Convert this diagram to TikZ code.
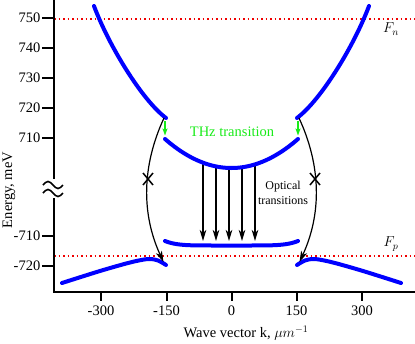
\documentclass[tikz,border=0pt]{standalone}
\usepackage{fontspec}
\setmainfont{Liberation Serif}
\usetikzlibrary{arrows.meta}
\definecolor{bandblue}{RGB}{0,0,255}
\definecolor{thzgreen}{RGB}{25,235,25}
\definecolor{fermired}{RGB}{240,0,0}
\begin{document}
\begin{tikzpicture}[x=1pt,y=-1pt,
  band/.style={line width=4pt, bandblue, line cap=round},
  axisline/.style={line width=2.4pt, black},
  tickmark/.style={line width=2pt, black},
  fermi/.style={line width=1.6pt, fermired, dash pattern=on 1.6pt off 2.9pt},
  trans/.style={line width=1.2pt, black, -{Stealth[length=11pt,width=6.5pt,inset=3pt]}},
  thzarrow/.style={line width=1.4pt, thzgreen, -{Stealth[length=7pt,width=5pt,inset=1.5pt]}},
  xmark/.style={line width=1.5pt, black},
  breakmark/.style={line width=1.6pt, black},
  lab/.style={font=\fontsize{14.5}{17}\selectfont, inner sep=0pt},
]
\useasboundingbox (0,0) rectangle (415,343);

% Fermi levels
\coordinate (fnL) at (54,19); \coordinate (fnR) at (415,19);
\coordinate (fpL) at (54,256); \coordinate (fpR) at (415,256);
\draw[fermi] (fnL) -- (fnR);
\draw[fermi] (fpL) -- (fpR);

% axes
\coordinate (ytop) at (54,0);
\coordinate (ybrA) at (54,179);
\coordinate (ybrB) at (54,198);
\coordinate (origin) at (54,292);
\coordinate (xend) at (415,292);
\draw[axisline] (ytop) -- (ybrA);
\draw[axisline] (ybrB) -- (origin) -- (xend);
% axis break
\draw[breakmark] (43,185) sin (48,181.5) cos (53,185) sin (58,188.5) cos (63,185);
\draw[breakmark] (43,193) sin (48,189.5) cos (53,193) sin (58,196.5) cos (63,193);

% y ticks
\foreach \v/\y/\n in {750/18/a,740/48/b,730/78/c,720/108/d,710/138/e,-710/236/f,-720/266/g}{
  \coordinate (yt\n) at (54,\y);
  \coordinate (ytl\n) at (42,\y);
  \draw[tickmark] (ytl\n) -- (yt\n);
  \node[lab, anchor=east] (ylab\n) at (40.5,\y) {\v};
}
% x ticks
\foreach \v/\x/\n in {-300/101/a,-150/166.5/b,0/231.5/c,150/296.5/d,300/362/e}{
  \coordinate (xt\n) at (\x,292);
  \coordinate (xtl\n) at (\x,301);
  \draw[tickmark] (xt\n) -- (xtl\n);
  \node[lab] (xlab\n) at (\x,311) {\v};
}
\node[lab, rotate=90] (ylabel) at (9,190) {Energy, meV};
\node[lab] (xlabel) at (246,333) {Wave vector k, $\mu m^{-1}$};

% vertical optical transitions
\foreach \x/\ys/\n in {203/162.7/a,216/166.4/b,229/168/c,242/167.3/d,255/164.4/e}{
  \coordinate (va\n) at (\x,\ys);
  \coordinate (vb\n) at (\x,241);
  \draw[trans] (va\n) -- (vb\n);
}

% bands, left side and mirrored right side
\foreach \sc in {1,-1}{
\begin{scope}[xshift={(1-\sc)*231.5pt}, xscale=\sc]
  \coordinate (ua) at (94,6);
  \coordinate (ub) at (166,118);
  \draw[band] (ua) .. controls (109,46) and (142,100) .. (ub);
  \draw[band] plot[smooth] coordinates {(62,283) (100,271) (130,262.5) (148,259) (158,260.5) (166,265)};
  \coordinate (ga) at (165,121);
  \coordinate (gb) at (165,135.5);
  \draw[thzarrow] (ga) -- (gb);
  \coordinate (ca) at (164,118);
  \coordinate (cb) at (163.5,262);
  \draw[trans] (ca) .. controls (141.7,166) and (141.3,214) .. (cb);
  \coordinate (xc) at (148,179);
  \draw[xmark] ([shift={(-5,-6)}]xc) -- ([shift={(5,6)}]xc);
  \draw[xmark] ([shift={(5,-6)}]xc) -- ([shift={(-5,6)}]xc);
\end{scope}
}
% THz subband and flat hole band
\draw[band] plot[domain=-66.5:66.5, samples=61] ({231.5+\x},{168-29*(\x/66.5)*(\x/66.5)});
\draw[band] plot[domain=-66.5:66.5, samples=61] ({231.5+\x},{245.5-4.5*pow(abs(\x)/66.5,6)});

% labels
\node[lab, text=thzgreen] (thz) at (232,132) {THz transition};
\node[font=\fontsize{12}{15}\selectfont, align=center, inner sep=0pt] (opt) at (283,192.5) {Optical\\transitions};
\node[lab] (Fn) at (391,29) {$F_n$};
\node[lab] (Fp) at (391,244) {$F_p$};
\end{tikzpicture}
\end{document}
